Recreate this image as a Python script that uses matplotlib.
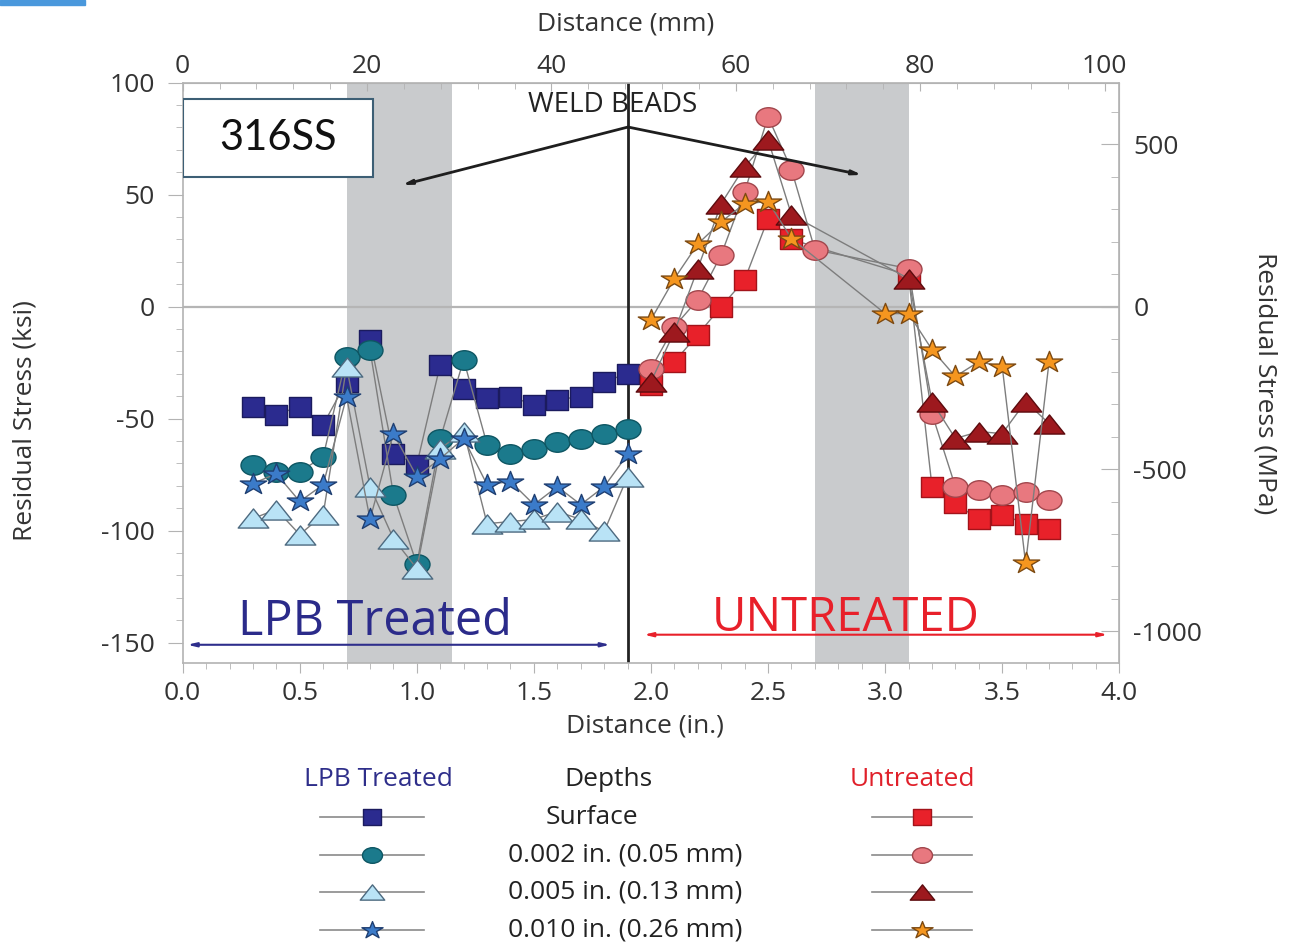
import numpy as np
import matplotlib
matplotlib.use('Agg')
import matplotlib.pyplot as plt
from matplotlib.markers import MarkerStyle
from matplotlib.transforms import Affine2D
from matplotlib.ticker import MultipleLocator
from matplotlib.lines import Line2D
from matplotlib.patches import Rectangle

plt.rcParams['font.family'] = ['Open Sans', 'DejaVu Sans']
plt.rcParams['axes.unicode_minus'] = False

# ---- data (ksi vs distance in inches) ----
x_lpb = [0.3, 0.4, 0.5, 0.6, 0.7, 0.8, 0.9, 1.0, 1.1, 1.2, 1.3, 1.4, 1.5, 1.6, 1.7, 1.8, 1.9]
lpb_surface = [-44.6, -48.2, -44.6, -52.7, -33.5, -14.7, -65.6, -70.5, -25.9, -37.0, -41.0, -40.2, -43.8, -41.5, -40.2, -33.5, -29.9]
lpb_002 = [-70.5, -73.7, -73.7, -67.0, -22.3, -19.2, -84.0, -115.0, -59.0, -23.7, -61.6, -65.6, -63.4, -60.3, -58.9, -57.1, -54.5]
lpb_005 = [-94.6, -90.6, -101.8, -92.9, -26.8, -80.4, -103.6, -117.0, -63.4, -55.8, -96.9, -96.0, -95.0, -91.5, -95.0, -100.4, -75.9]
lpb_010 = [-79.0, -74.6, -87.0, -79.5, -40.2, -95.0, -56.7, -75.9, -67.9, -58.9, -79.5, -78.1, -88.4, -80.4, -88.4, -80.4, -66.0]

x_un_surface = [2.0, 2.1, 2.2, 2.3, 2.4, 2.5, 2.6, 3.1, 3.2, 3.3, 3.4, 3.5, 3.6, 3.7]
un_surface = [-34.8, -24.6, -12.5, 0.0, 12.0, 39.3, 30.0, 14.0, -80.4, -87.9, -95.0, -92.9, -96.9, -99.1]
x_un_002 = [2.0, 2.1, 2.2, 2.3, 2.4, 2.5, 2.6, 2.7, 3.1, 3.2, 3.3, 3.4, 3.5, 3.6, 3.7]
un_002 = [-27.7, -8.9, 3.1, 23.2, 51.3, 84.8, 61.2, 25.4, 17.0, -47.8, -80.4, -81.7, -83.9, -82.6, -86.2]
x_un_005 = [2.0, 2.1, 2.2, 2.3, 2.4, 2.5, 2.6, 3.1, 3.2, 3.3, 3.4, 3.5, 3.6, 3.7]
un_005 = [-33.5, -11.2, 17.0, 46.0, 62.5, 74.5, 41.0, 12.5, -42.4, -58.9, -55.8, -56.7, -42.4, -52.2]
x_un_010 = [2.0, 2.1, 2.2, 2.3, 2.4, 2.5, 2.6, 3.0, 3.1, 3.2, 3.3, 3.4, 3.5, 3.6, 3.7]
un_010 = [-5.8, 12.5, 28.0, 37.9, 46.0, 46.9, 30.4, -3.1, -3.1, -19.2, -31.2, -24.6, -26.8, -114.7, -24.6]

weld_bands = [(0.70, 1.15), (2.70, 3.10)]
divider_x = 1.90
depth_labels = ['Surface', '0.002 in. (0.05 mm)', '0.005 in. (0.13 mm)', '0.010 in. (0.26 mm)']


def squash(m, sx):
    'marker stretched sideways like the source image'
    ms = MarkerStyle(m)
    p = ms.get_path().transformed(ms.get_transform())
    return p.transformed(Affine2D().scale(sx, 1.0))


m_sq = squash('s', 1.15)
m_ci = squash('o', 1.28)
m_tr = squash('^', 1.6)
m_st = squash('*', 1.25)

# (marker, size, face, edge)
lpb_styles = [(m_sq, 16.5, '#2b2b8f', '#1b1b5e'),
              (m_ci, 18, '#1b7a8c', '#0e5663'),
              (m_tr, 22, '#b9e3f6', '#4d6a80'),
              (m_st, 19, '#3b7bc9', '#1f3f72')]
un_styles = [(m_sq, 16.5, '#e8212a', '#a3131a'),
             (m_ci, 18, '#e8787f', '#a1464c'),
             (m_tr, 22, '#9d191e', '#5c0b0e'),
             (m_st, 19, '#f5961f', '#7d4a12')]

FS = 19
TXT = '#333333'

fig = plt.figure(figsize=[12.91, 9.44], dpi=100)
ax = fig.add_axes([0.1415, 0.298, 0.7255, 0.6144])

'Weld bead bands and reference lines'
for a, b in weld_bands:
    ax.axvspan(a, b, color='#c9cbcd', zorder=0, lw=0)
ax.axhline(0, color='#b5b5b5', lw=1.6, zorder=1)
ax.axvline(divider_x, color='#222222', lw=2, zorder=2)

'Data series'
lpb_data = [lpb_surface, lpb_002, lpb_005, lpb_010]
for ys, (mk, sz, fc, ec) in zip(lpb_data, lpb_styles):
    ax.plot(x_lpb, ys, color='#7d7d7d', lw=1, marker=mk, ms=sz,
            mfc=fc, mec=ec, mew=1, zorder=3)

un_data = [(x_un_surface, un_surface), (x_un_002, un_002),
           (x_un_005, un_005), (x_un_010, un_010)]
for (xs, ys), (mk, sz, fc, ec) in zip(un_data, un_styles):
    ax.plot(xs, ys, color='#7d7d7d', lw=1, marker=mk, ms=sz,
            mfc=fc, mec=ec, mew=1, zorder=3)

ax.set_xlim(0, 4)
ax.set_ylim(-159, 100)

'Axes styling'
spine_c = '#b3b3b3'
for s in ax.spines.values():
    s.set_color(spine_c)
    s.set_linewidth(1.2)
ax.set_xticks([0, 0.5, 1.0, 1.5, 2.0, 2.5, 3.0, 3.5, 4.0])
ax.set_xticklabels(['0.0', '0.5', '1.0', '1.5', '2.0', '2.5', '3.0', '3.5', '4.0'])
ax.xaxis.set_minor_locator(MultipleLocator(0.1))
ax.set_yticks([-150, -100, -50, 0, 50, 100])
ax.yaxis.set_minor_locator(MultipleLocator(10))
ax.tick_params(axis='x', which='major', direction='out', length=7, color=spine_c,
               labelsize=FS, labelcolor=TXT, pad=6)
ax.tick_params(axis='x', which='minor', direction='out', length=4, color=spine_c)
ax.tick_params(axis='y', which='major', direction='out', length=11, color=spine_c,
               labelsize=FS, labelcolor=TXT, pad=9)
ax.tick_params(axis='y', which='minor', direction='out', length=5, color=spine_c)

ax.set_xlabel('Distance (in.)', fontsize=FS, color=TXT)
ax.xaxis.label.set_verticalalignment('center')
ax.xaxis.set_label_coords(0.494, -0.110)
ax.set_ylabel('Residual Stress (ksi)', fontsize=FS, color=TXT)
ax.yaxis.label.set_verticalalignment('center')
ax.yaxis.set_label_coords(-0.168, 0.418)

'Secondary axes: mm on top, MPa on right'
top = ax.secondary_xaxis('top', functions=(lambda v: v * 25.4, lambda v: v / 25.4))
top.set_xticks([0, 20, 40, 60, 80, 100])
top.xaxis.set_minor_locator(MultipleLocator(4))
top.tick_params(which='major', direction='in', length=6, color=spine_c,
                labelsize=FS, labelcolor=TXT, pad=3)
top.tick_params(which='minor', direction='in', length=4, color=spine_c)
top.spines['top'].set_color(spine_c)

right = ax.secondary_yaxis('right', functions=(lambda v: v * 6.894757, lambda v: v / 6.894757))
right.set_yticks([-1000, -500, 0, 500])
right.yaxis.set_minor_locator(MultipleLocator(100))
right.tick_params(which='major', direction='in', length=13, color=spine_c,
                  labelsize=FS, labelcolor=TXT, pad=10)
right.tick_params(which='minor', direction='in', length=6, color=spine_c)
right.spines['right'].set_color(spine_c)

W, H = 1291.0, 944.0
def fx(px): return px / W
def fy(py): return 1 - py / H

fig.text(fx(626), fy(24), 'Distance (mm)', fontsize=FS, color=TXT, ha='center', va='center')
fig.text(fx(1265), fy(383), 'Residual Stress (MPa)', fontsize=FS, color=TXT,
         rotation=270, ha='center', va='center')

'Annotations'
ax.add_patch(Rectangle((0, 0.8375), 0.2029, 0.1344, transform=ax.transAxes,
                       fc='white', ec='#3d5f75', lw=1.5, zorder=6))
ax.text(0.1014, 0.9047, '316SS', transform=ax.transAxes, fontsize=30,
        family=['Lato', 'DejaVu Sans'], color='#111111', ha='center', va='center', zorder=7)
ax.text(1.835, 90.0, 'WELD BEADS', fontsize=20, color='#222222', ha='center', va='center', zorder=6)
tip = (1.902, 80.2)
for end in [(0.936, 54.3), (2.902, 58.8)]:
    ax.annotate('', xy=end, xytext=tip, zorder=6,
                arrowprops=dict(arrowstyle='-|>,head_length=0.5,head_width=0.12',
                                color='#1e1e1e', lw=2, shrinkA=0, shrinkB=0))

ax.text(0.82, -141.0, 'LPB Treated', fontsize=35, color='#2b2b8a', ha='center', va='center', zorder=6)
ax.annotate('', xy=(0.02, -151), xytext=(1.825, -151), zorder=6,
            arrowprops=dict(arrowstyle='<|-|>,head_length=0.5,head_width=0.12',
                            color='#2e2e8c', lw=1.5, shrinkA=0, shrinkB=0))
ax.text(2.83, -139.0, 'UNTREATED', fontsize=34, color='#e8202a', ha='center', va='center', zorder=6)
ax.annotate('', xy=(1.97, -146.5), xytext=(3.95, -146.5), zorder=6,
            arrowprops=dict(arrowstyle='<|-|>,head_length=0.5,head_width=0.12',
                            color='#e8202a', lw=1.5, shrinkA=0, shrinkB=0))

'Legend drawn by hand below the plot'
fig.text(fx(378), fy(780), 'LPB Treated', fontsize=FS, color='#2e2e8a', ha='center', va='center')
fig.text(fx(608), fy(780), 'Depths', fontsize=FS, color='#222222', ha='center', va='center')
fig.text(fx(912), fy(780), 'Untreated', fontsize=FS, color='#e0202a', ha='center', va='center')
row_y = [817, 855, 892, 930]
label_x = [592, 625, 625, 625]
for i, lab in enumerate(depth_labels):
    yy = fy(row_y[i])
    fig.text(fx(label_x[i]), yy, lab, fontsize=FS, color='#222222', ha='center', va='center')
    for (x0, x1, xm), sty in [((320, 424, 372), lpb_styles[i]), ((872, 972, 922), un_styles[i])]:
        mk, sz, fc, ec = sty
        fig.add_artist(Line2D([fx(x0), fx(x1)], [yy, yy], color='#8a8a8a', lw=1.2,
                              transform=fig.transFigure))
        fig.add_artist(Line2D([fx(xm)], [yy], marker=mk, ms=sz * 0.8, mfc=fc, mec=ec, mew=1,
                              lw=0, transform=fig.transFigure))

'Small blue tab at the image corner'
fig.add_artist(Rectangle((0, fy(5)), fx(85), fy(0) - fy(5), color='#4a98dc',
                         transform=fig.transFigure))

plt.savefig('out.png', dpi=100)
